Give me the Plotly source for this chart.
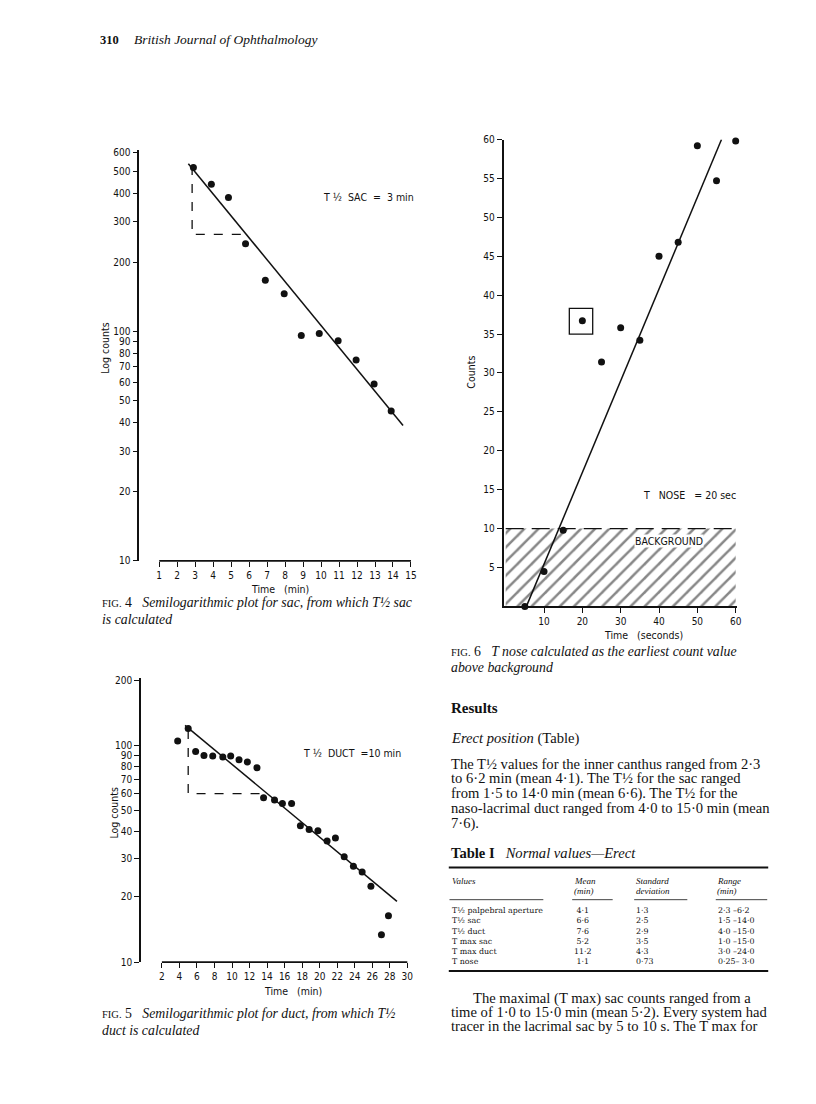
import plotly.graph_objects as go

W, H = 816, 1104
INK = "#111111"
SANS = "Liberation Sans Narrow, DejaVu Sans Condensed, Arial Narrow, sans-serif"
SERIF = "Liberation Serif, DejaVu Serif, serif"
NB = "\u00a0"

# ---- Fig 4: sac (semilog) ----
sac_time = [2.9, 3.9, 4.85, 5.8, 6.9, 7.95, 8.9, 9.9, 10.95, 11.95, 12.95, 13.9]
sac_counts = [518, 438, 383, 241, 167, 146, 96, 98, 91, 75, 59, 45]
sac_fit_time = [2.62, 14.56]
sac_fit_counts = [538, 38.9]
sac_half_time = [2.83, 2.83, 5.8]
sac_half_counts = [526, 265, 265]
sac_xticks = list(range(1, 16))
sac_yticks = [10, 20, 30, 40, 50, 60, 70, 80, 90, 100, 200, 300, 400, 500, 600]

# ---- Fig 5: duct (semilog) ----
duct_time = [3.8, 5.0, 5.85, 6.8, 7.8, 8.95, 9.85, 10.8, 11.75, 12.85, 13.6, 14.85, 15.75,
             16.8, 17.8, 18.8, 19.8, 20.85, 21.8, 22.8, 23.85, 24.85, 25.85, 27.05, 27.85]
duct_counts = [105, 120, 94, 90, 89.5, 88.5, 89.5, 86, 84, 79, 57.5, 56, 54,
               54, 42.6, 41, 40.4, 36.3, 37.4, 30.7, 27.7, 26.1, 22.4, 13.4, 16.4]
duct_fit_time = [4.64, 28.82]
duct_fit_counts = [124, 19.1]
duct_half_time = [5.0, 5.0, 13.7]
duct_half_counts = [118, 60, 60]
duct_xticks = list(range(2, 31, 2))
duct_yticks = [10, 20, 30, 40, 50, 60, 70, 80, 90, 100, 200]

# ---- Fig 6: nose (linear) ----
nose_time = [5, 10, 15, 20, 25, 30, 35, 40, 45, 50, 55, 60]
nose_counts = [0, 4.5, 9.8, 36.7, 31.4, 35.8, 34.2, 45.0, 46.8, 59.2, 54.7, 59.8]
nose_fit_time = [5.4, 56.3]
nose_fit_counts = [0, 60]
background_level = 10
background_span = [0, 60]
flagged_box = [16.6, 22.7, 35.0, 38.3]
nose_xticks = [10, 20, 30, 40, 50, 60]
nose_yticks = [5, 10, 15, 20, 25, 30, 35, 40, 45, 50, 55, 60]

# ---- Table I ----
row_labels = ["T½ palpebral aperture", "T½ sac", "T½ duct", "T max sac", "T max duct", "T nose"]
row_means = ["4·1", "6·6", "7·6", "5·2", "11·2", "1·1"]
row_sds = ["1·3", "2·5", "2·9", "3·5", "4·3", "0·73"]
row_ranges = ["2·3 –6·2", "1·5 –14·0", "4·0 –15·0", "1·0 –15·0", "3·0 –24·0", "0·25– 3·0"]


def lin_range(d0, d1, pa, va, pb, vb):
    k = (vb - va) / (pb - pa)
    return [va + (d0 - pa) * k, va + (d1 - pa) * k]


def xdom(a, b):
    return [a / W, b / W]


def ydom(top, bottom):
    return [1 - bottom / H, 1 - top / H]


def txt(s, px, py, size=14, fam=SERIF, anchor="left", angle=0, yanchor="middle", **kw):
    return dict(text=s, x=px / W, y=1 - py / H, xref="paper", yref="paper",
                xanchor=anchor, yanchor=yanchor, showarrow=False, textangle=angle,
                font=dict(family=fam, size=size, color=INK), **kw)


def hline(x0, x1, py, width=1.0):
    return dict(type="line", xref="paper", yref="paper", x0=x0 / W, x1=x1 / W,
                y0=1 - py / H, y1=1 - py / H, line=dict(color=INK, width=width))


fig = go.Figure()

dot = dict(color=INK, size=7)
solid = dict(color=INK, width=1.5)
dashed = dict(color=INK, width=1.3, dash="dash")

# fig 4 traces
fig.add_trace(go.Scatter(x=sac_fit_time, y=sac_fit_counts, mode="lines", line=solid, xaxis="x", yaxis="y"))
fig.add_trace(go.Scatter(x=sac_half_time, y=sac_half_counts, mode="lines", line=dashed, xaxis="x", yaxis="y"))
fig.add_trace(go.Scatter(x=sac_time, y=sac_counts, mode="markers", marker=dot, xaxis="x", yaxis="y"))

# fig 5 traces
fig.add_trace(go.Scatter(x=duct_fit_time, y=duct_fit_counts, mode="lines", line=solid, xaxis="x2", yaxis="y2"))
fig.add_trace(go.Scatter(x=duct_half_time, y=duct_half_counts, mode="lines", line=dashed, xaxis="x2", yaxis="y2"))
fig.add_trace(go.Scatter(x=duct_time, y=duct_counts, mode="markers", marker=dot, xaxis="x2", yaxis="y2"))

# fig 6 traces
bx = [background_span[0], background_span[1], background_span[1], background_span[0], background_span[0]]
by = [0, 0, background_level, background_level, 0]
fig.add_trace(go.Scatter(x=bx, y=by, mode="lines", fill="toself", line=dict(width=0),
                         fillcolor="white",
                         fillpattern=dict(shape="/", fgcolor=INK, bgcolor="white", size=10, solidity=0.25),
                         xaxis="x3", yaxis="y3"))
fig.add_trace(go.Scatter(x=background_span, y=[background_level] * 2, mode="lines",
                         line=dict(color=INK, width=1.3, dash="18px,8px"), xaxis="x3", yaxis="y3"))
fig.add_trace(go.Scatter(x=nose_fit_time, y=nose_fit_counts, mode="lines", line=solid, xaxis="x3", yaxis="y3"))
fig.add_trace(go.Scatter(x=nose_time, y=nose_counts, mode="markers", marker=dot, cliponaxis=False,
                         xaxis="x3", yaxis="y3"))

axfont = dict(family=SANS, size=10, color=INK)
common = dict(showgrid=False, zeroline=False, ticks="outside", ticklen=5, tickwidth=1.3,
              tickcolor=INK, tickfont=axfont, fixedrange=True)

fig.update_layout(
    width=W, height=H, autosize=False, showlegend=False,
    margin=dict(l=0, r=0, t=0, b=0),
    paper_bgcolor="white", plot_bgcolor="white",
    xaxis=dict(domain=xdom(140, 416), range=lin_range(140, 416, 160, 1, 413, 15),
               tickvals=sac_xticks, showline=False, anchor="y", **common),
    yaxis=dict(domain=ydom(146, 561), type="log", range=[1, 1 + (561 - 146) / 232],
               tickvals=sac_yticks, ticktext=[str(v) for v in sac_yticks],
               showline=True, linecolor=INK, linewidth=1.6, anchor="x", **common),
    xaxis2=dict(domain=xdom(141.7, 411), range=lin_range(141.7, 411, 162.7, 2, 409.3, 30),
                tickvals=duct_xticks, showline=False, anchor="y2", **common),
    yaxis2=dict(domain=ydom(679, 966.7), type="log", range=[1, 1 + (966.7 - 679) / 219],
                tickvals=duct_yticks, ticktext=[str(v) for v in duct_yticks],
                showline=True, linecolor=INK, linewidth=1.6, anchor="x2", **common),
    xaxis3=dict(domain=xdom(506, 741), range=lin_range(506, 741, 546.7, 10, 739.3, 60),
                tickvals=nose_xticks, showline=True, linecolor=INK, linewidth=1.6, anchor="y3", **common),
    yaxis3=dict(domain=ydom(135, 607), range=[0, 60],
                tickvals=nose_yticks, showline=True, linecolor=INK, linewidth=1.6, anchor="x3", **common),
)

shapes = [
    # detached time axes of the semilog plots
    dict(type="line", xref="x", yref="y domain", x0=sac_xticks[0], x1=sac_xticks[-1], y0=0, y1=0,
         line=dict(color=INK, width=1.8)),
    dict(type="line", xref="x2", yref="y2 domain", x0=duct_xticks[0], x1=duct_xticks[-1], y0=0, y1=0,
         line=dict(color=INK, width=1.8)),
    # boxed outlier in fig 6
    dict(type="rect", xref="x3", yref="y3", x0=flagged_box[0], x1=flagged_box[1],
         y0=flagged_box[2], y1=flagged_box[3], line=dict(color=INK, width=1.3)),
    # table rules
    hline(451, 772, 871, 2),
    hline(451.7, 546, 903.5, 0.8), hline(575, 615.7, 903.5, 0.8),
    hline(637.3, 690.7, 903.5, 0.8), hline(719.3, 771, 903.5, 0.8),
    hline(451, 772, 975.5, 2),
]
fig.update_layout(shapes=shapes)

ann = []
# page header
ann.append(txt("<b>310</b>", 98, 34, 12.5))
ann.append(txt("<i>British Journal of Ophthalmology</i>", 133, 34, 13.5))

# fig 4 texts
ann.append(txt(NB.join(["T", "½", "", "SAC", "", "=", "", "3", "min"]), 323, 193, 10.5, SANS))
ann.append(txt("Log counts", 106, 345, 10.5, SANS, "center", -90))
ann.append(txt("Time" + NB * 3 + "(min)", 281, 589, 10.5, SANS, "center"))
ann.append(txt("<span style='font-size:10.5px'>FIG.</span> 4" + NB * 3 +
               "<i>Semilogarithmic plot for sac, from which T½ sac</i>", 100, 603, 13.8))
ann.append(txt("<i>is calculated</i>", 100, 620, 13.8))

# fig 5 texts
ann.append(txt(NB.join(["T", "½", "", "DUCT", "", "=10", "min"]), 302, 755, 10.5, SANS))
ann.append(txt("Log counts", 115, 815, 10.5, SANS, "center", -90))
ann.append(txt("Time" + NB * 3 + "(min)", 294, 996, 10.5, SANS, "center"))
ann.append(txt("<span style='font-size:10.5px'>FIG.</span> 5" + NB * 3 +
               "<i>Semilogarithmic plot for duct, from which T½</i>", 100, 1019, 13.8))
ann.append(txt("<i>duct is calculated</i>", 100, 1036, 13.8))

# fig 6 texts
ann.append(txt(NB.join(["T", "", "", "NOSE", "", "", "=", "20", "sec"]), 644, 494, 10.5, SANS))
ann.append(txt("BACKGROUND", 637, 541, 10.5, SANS, bgcolor="white", borderpad=0))
ann.append(txt("Counts", 473, 370, 10.5, SANS, "center", -90))
ann.append(txt("Time" + NB * 3 + "(seconds)", 647, 636, 10.5, SANS, "center"))
ann.append(txt("<span style='font-size:10.5px'>FIG.</span> 6" + NB * 3 +
               "<i>T nose calculated as the earliest count value</i>", 451, 653, 13.8))
ann.append(txt("<i>above background</i>", 451, 669, 13.8))

# results text
ann.append(txt("<b>Results</b>", 451, 710, 15))
ann.append(txt("<i>Erect position</i> (Table)", 451, 741, 14.6))
para = [
    "The T½ values for the inner canthus ranged from 2·3",
    "to 6·2 min (mean 4·1). The T½ for the sac ranged",
    "from 1·5 to 14·0 min (mean 6·6). The T½ for the",
    "naso-lacrimal duct ranged from 4·0 to 15·0 min (mean",
    "7·6).",
]
for i, line in enumerate(para):
    ann.append(txt(line, 451, 766 + i * 15.2, 14.6))
ann.append(txt("<b>Table I</b>" + NB * 3 + "<i>Normal values—Erect</i>", 451, 856, 14.6))

# table
hdr = 9
ann.append(txt("<i>Values</i>", 452, 885, hdr))
ann.append(txt("<i>Mean</i>", 575, 885, hdr))
ann.append(txt("<i>(min)</i>", 575, 895, hdr))
ann.append(txt("<i>Standard</i>", 637, 885, hdr))
ann.append(txt("<i>deviation</i>", 637, 895, hdr))
ann.append(txt("<i>Range</i>", 719, 885, hdr))
ann.append(txt("<i>(min)</i>", 719, 895, hdr))
TAB = "DejaVu Serif, Liberation Serif, serif"
tb = 7.9
ann.append(txt("<br>".join(row_labels), 452, 908, tb, TAB, yanchor="top", align="left"))
ann.append(txt("<br>".join(row_means), 586, 908, tb, TAB, "center", yanchor="top", align="center"))
ann.append(txt("<br>".join(row_sds), 637, 908, tb, TAB, yanchor="top", align="left"))
ann.append(txt("<br>".join(row_ranges), 720, 908, tb, TAB, yanchor="top", align="left"))

# closing paragraph
tail = [
    ("The maximal (T max) sac counts ranged from a", 473),
    ("time of 1·0 to 15·0 min (mean 5·2). Every system had", 451),
    ("tracer in the lacrimal sac by 5 to 10 s. The T max for", 451),
]
for i, (line, x0) in enumerate(tail):
    ann.append(txt(line, x0, 1003 + i * 14.3, 14.6))

fig.update_layout(annotations=ann)

fig.write_html("out.html", config={"displayModeBar": False},
               post_script="document.body.style.margin='0';")
